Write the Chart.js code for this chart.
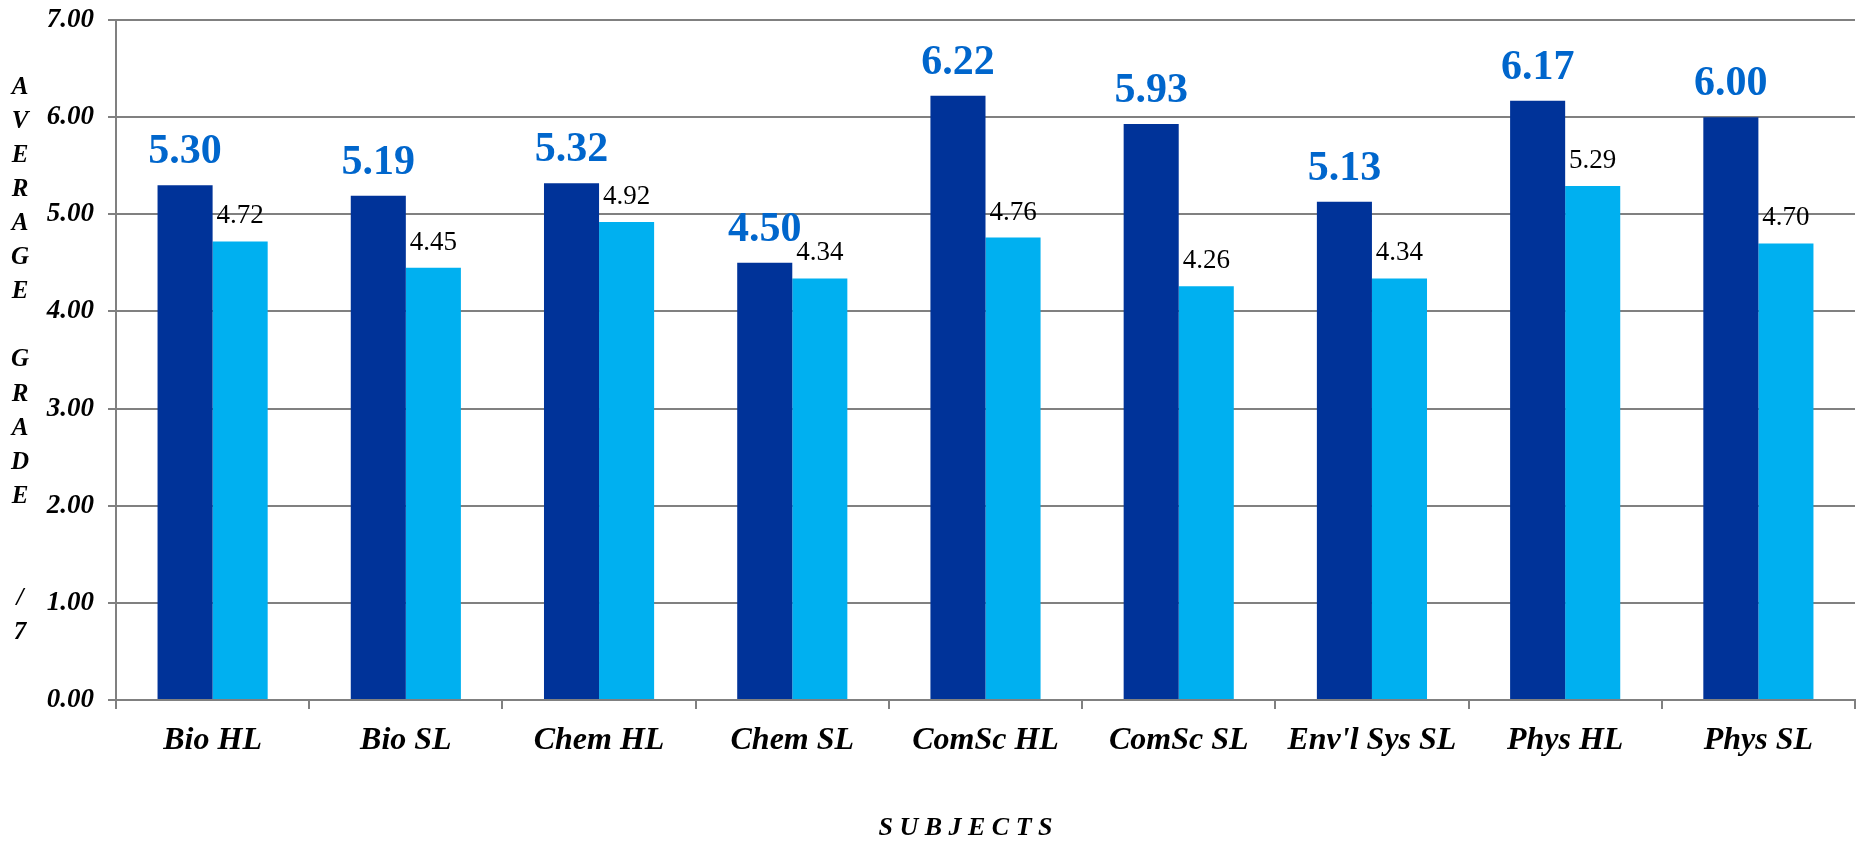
<!DOCTYPE html>
<html>
<head>
<meta charset="utf-8">
<script src="https://cdn.jsdelivr.net/npm/chart.js@4.4.1/dist/chart.umd.min.js"></script>
<style>
  html, body { margin: 0; padding: 0; background: #ffffff; }
  #wrap { width: 1864px; height: 842px; position: relative; }
  canvas { display: block; }
</style>
</head>
<body>
<div id="wrap"><canvas id="chart" width="1864" height="842"></canvas></div>
<script>
const categories = ['Bio HL', 'Bio SL', 'Chem HL', 'Chem SL', 'ComSc HL', 'ComSc SL', "Env'l Sys SL", 'Phys HL', 'Phys SL'];
const schoolValues = [5.30, 5.19, 5.32, 4.50, 6.22, 5.93, 5.13, 6.17, 6.00];
const worldValues = [4.72, 4.45, 4.92, 4.34, 4.76, 4.26, 4.34, 5.29, 4.70];
const yMin = 0;
const yMax = 7;
const yStep = 1;
const yTitleLines = ['A', 'V', 'E', 'R', 'A', 'G', 'E', '', 'G', 'R', 'A', 'D', 'E', '', '', '/', '7'];
const xTitle = 'S U B J E C T S';

const SERIF = '"Liberation Serif", "Times New Roman", serif';
const GRID = '#808080';

const labelsPlugin = {
  id: 'valueLabels',
  afterDatasetsDraw(chart) {
    const ctx = chart.ctx;
    ctx.save();
    ctx.textAlign = 'center';
    ctx.textBaseline = 'alphabetic';
    chart.data.datasets.forEach((ds, di) => {
      const meta = chart.getDatasetMeta(di);
      meta.data.forEach((bar, i) => {
        const v = ds.data[i];
        if (di === 0) {
          ctx.font = 'bold 42px ' + SERIF;
          ctx.fillStyle = '#0066CC';
          ctx.fillText(v.toFixed(2), bar.x, bar.y - 22);
        } else {
          ctx.font = '27px ' + SERIF;
          ctx.fillStyle = '#000000';
          ctx.fillText(v.toFixed(2), bar.x, bar.y - 18);
        }
      });
    });
    ctx.restore();
  }
};

const titlesPlugin = {
  id: 'axisTitles',
  afterDraw(chart) {
    const ctx = chart.ctx;
    const a = chart.chartArea;
    ctx.save();
    ctx.fillStyle = '#000000';
    ctx.textAlign = 'center';
    ctx.textBaseline = 'middle';
    ctx.font = 'italic bold 25px ' + SERIF;
    const cy = (a.top + a.bottom) / 2;
    const step = 34.1;
    const n = yTitleLines.length;
    yTitleLines.forEach((ch, i) => {
      if (ch) ctx.fillText(ch, 20, cy + (i - (n - 1) / 2) * step);
    });
    ctx.font = 'italic bold 26px ' + SERIF;
    ctx.textBaseline = 'alphabetic';
    ctx.fillText(xTitle, (a.left + a.right) / 2 - 20, 835);
    ctx.restore();
  }
};

new Chart(document.getElementById('chart'), {
  type: 'bar',
  data: {
    labels: categories,
    datasets: [
      { label: 'School', data: schoolValues, backgroundColor: '#003399', borderWidth: 0,
        categoryPercentage: 0.57, barPercentage: 1.0 },
      { label: 'World', data: worldValues, backgroundColor: '#00B0F0', borderWidth: 0,
        categoryPercentage: 0.57, barPercentage: 1.0 }
    ]
  },
  options: {
    responsive: false,
    animation: false,
    devicePixelRatio: 1,
    layout: { padding: { left: 0, right: 9, top: 20, bottom: 0 } },
    plugins: {
      legend: { display: false },
      tooltip: { enabled: false },
      title: { display: false }
    },
    scales: {
      x: {
        grid: { display: true, drawOnChartArea: false, drawTicks: true, tickLength: 9, color: GRID, lineWidth: 2, offset: true },
        border: { display: true, color: GRID, width: 2 },
        ticks: { color: '#000000', font: { family: SERIF, size: 32, style: 'italic', weight: 'bold' }, padding: 13, maxRotation: 0, autoSkip: false },
        afterFit(scale) { scale.height = 142; scale.paddingLeft = 0; scale.paddingRight = 0; }
      },
      y: {
        min: yMin,
        max: yMax,
        grid: { color: GRID, lineWidth: 2, drawTicks: true, tickLength: 8 },
        border: { display: true, color: GRID, width: 2 },
        ticks: {
          stepSize: yStep,
          color: '#000000',
          padding: 14,
          font: { family: SERIF, size: 27, style: 'italic', weight: 'bold' },
          callback: (v) => Number(v).toFixed(2)
        },
        afterFit(scale) { scale.width = 116; scale.paddingTop = 0; scale.paddingBottom = 0; }
      }
    }
  },
  plugins: [labelsPlugin, titlesPlugin]
});
</script>
</body>
</html>
